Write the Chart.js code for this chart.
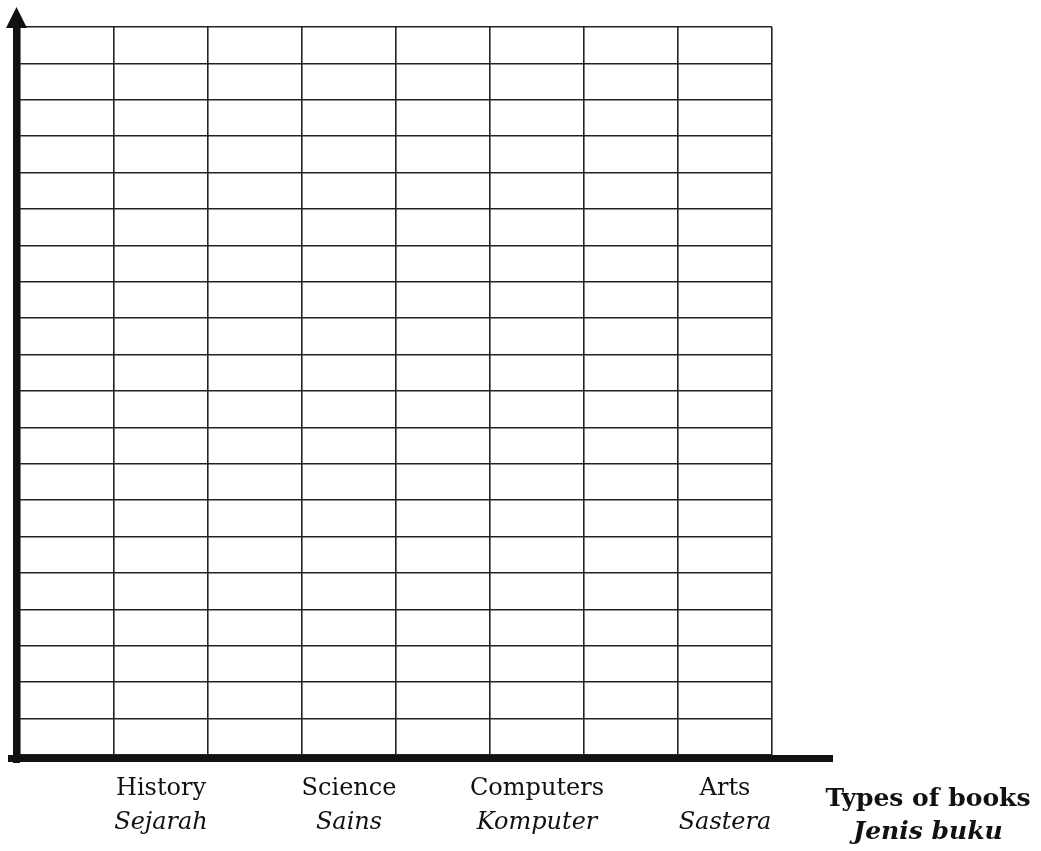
<!DOCTYPE html>
<html>
<head>
  <meta charset="utf-8">
  <script src="https://cdn.jsdelivr.net/npm/chart.js@4/dist/chart.umd.min.js"></script>
  <style>
    html, body { margin: 0; padding: 0; background: #fff; }
    #wrap { width: 1041px; height: 851px; }
  </style>
</head>
<body>
  <div id="wrap">
    <canvas id="books"></canvas>
  </div>
  <script>
    // blank grid: 8 columns, one labelled type of book under every second column
    const columns = ['', 'History', '', 'Science', '', 'Computers', '', 'Arts'];
    const columnsMalay = ['', 'Sejarah', '', 'Sains', '', 'Komputer', '', 'Sastera'];
    const bookCounts = [null, null, null, null, null, null, null, null]; // left empty to be filled in
    const yMax = 20;
    const axisTitle = ['Types of books', 'Jenis buku'];

    const axesPlugin = {
      id: 'handDrawnAxes',
      afterDraw(chart) {
        const { ctx, chartArea: a, scales: { x } } = chart;
        ctx.save();
        ctx.fillStyle = '#111';

        // y axis with arrow head
        ctx.fillRect(a.left - 7, a.top, 7, a.bottom - a.top + 8);
        ctx.beginPath();
        ctx.moveTo(a.left - 3.5, 7);
        ctx.lineTo(a.left + 7, a.top + 1);
        ctx.lineTo(a.left - 14, a.top + 1);
        ctx.closePath();
        ctx.fill();

        // x axis
        ctx.fillRect(a.left - 12, a.bottom, a.right - a.left + 73, 7);

        // category labels
        ctx.textAlign = 'center';
        ctx.textBaseline = 'middle';
        columns.forEach((c, i) => {
          if (!c) return;
          const px = x.getPixelForValue(i);
          ctx.font = '24px "DejaVu Serif"';
          ctx.fillText(c, px, a.bottom + 34);
          ctx.font = 'italic 24px "DejaVu Serif"';
          ctx.fillText(columnsMalay[i], px, a.bottom + 68);
        });

        // axis title
        ctx.font = 'bold 25px "DejaVu Serif"';
        ctx.fillText(axisTitle[0], 928, a.bottom + 44);
        ctx.font = 'bold italic 25px "DejaVu Serif"';
        ctx.fillText(axisTitle[1], 928, a.bottom + 77);
        ctx.restore();
      }
    };

    new Chart(document.getElementById('books'), {
      type: 'bar',
      data: {
        labels: columns,
        datasets: [{
          label: 'Number of books',
          data: bookCounts,
          backgroundColor: '#333'
        }]
      },
      options: {
        responsive: true,
        maintainAspectRatio: false,
        animation: false,
        layout: { padding: { left: 20, top: 27, right: 269, bottom: 96 } },
        plugins: { legend: { display: false }, tooltip: { enabled: false } },
        scales: {
          x: {
            offset: true,
            grid: { offset: true, color: '#222', lineWidth: 1.6, drawTicks: false },
            border: { display: false },
            ticks: { display: false }
          },
          y: {
            min: 0,
            max: yMax,
            ticks: { display: false, stepSize: 1 },
            grid: { color: '#222', lineWidth: 1.6, drawTicks: false },
            border: { display: false }
          }
        }
      },
      plugins: [axesPlugin]
    });
  </script>
</body>
</html>
